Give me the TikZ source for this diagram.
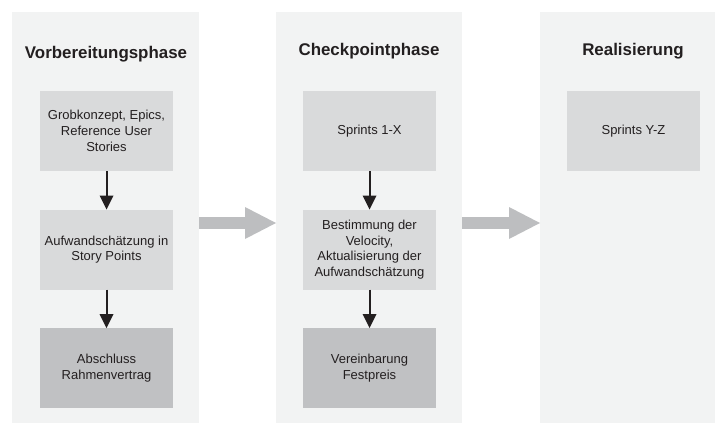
\documentclass[tikz,border=0pt]{standalone}
\usepackage{fontspec}
\setmainfont{Liberation Sans}
\usetikzlibrary{positioning, calc, arrows.meta}

\definecolor{panelbg}{HTML}{F2F3F3}
\definecolor{boxlight}{HTML}{D9DADB}
\definecolor{boxdark}{HTML}{C0C1C3}
\definecolor{arrowgray}{HTML}{BDBEC0}
\definecolor{arrowdark}{HTML}{231F20}

\tikzset{
	panel/.style={fill=panelbg, minimum height=411pt, inner sep=0pt, outer sep=0pt},
	phasetitle/.style={anchor=base, text=arrowdark, font=\fontsize{16.9pt}{19pt}\selectfont\bfseries},
	lightbox/.style={fill=boxlight, text=arrowdark, minimum width=133pt, minimum height=80pt, inner sep=0pt, outer sep=0pt, align=center, font=\fontsize{13pt}{15.7pt}\selectfont},
	darkbox/.style={lightbox, fill=boxdark},
	flow/.style={draw=arrowdark, line width=2pt, -{Triangle[length=14pt, width=14pt, line width=0pt]}},
	bigarrow/.style={draw=arrowgray, line width=12pt, -{Triangle[length=31pt, width=32pt, line width=0pt]}}
}

\begin{document}
\begin{tikzpicture}[x=1pt, y=-1pt]
	\useasboundingbox (0,0) rectangle (715,423);

	\node (p1) [panel, minimum width=187pt] at (105.5,217.5) {};
	\node (p2) [panel, minimum width=186pt] at (369,217.5) {};
	\node (p3) [panel, minimum width=175pt] at (627.5,217.5) {};

	\node (t1) [phasetitle] at (106,58) {Vorbereitungsphase};
	\node (t2) [phasetitle] at (369,55) {Checkpointphase};
	\node (t3) [phasetitle] at (633,55) {Realisierung};

	\node (n1) [lightbox] at (106.5,131) {Grobkonzept, Epics,\\Reference User\\Stories};
	\node (n2) [lightbox] at (106.5,249.5) {Aufwandschätzung in\\Story Points};
	\node (n3) [darkbox] at (106.5,368) {Abschluss\\Rahmenvertrag};

	\node (n4) [lightbox] at (369.5,131) {Sprints 1-X};
	\node (n5) [lightbox] at (369.5,249.5) {Bestimmung der\\Velocity,\\Aktualisierung der\\Aufwandschätzung};
	\node (n6) [darkbox] at (369.5,368) {Vereinbarung\\Festpreis};

	\node (n7) [lightbox] at (633.5,131) {Sprints Y-Z};

	\draw [flow] (n1) -- (n2);
	\draw [flow] (n2) -- (n3);
	\draw [flow] (n4) -- (n5);
	\draw [flow] (n5) -- (n6);

	\draw [bigarrow] ($(p1.east)+(0,5.5)$) -- ($(p2.west)+(0,5.5)$);
	\draw [bigarrow] ($(p2.east)+(0,5.5)$) -- ($(p3.west)+(0,5.5)$);
\end{tikzpicture}
\end{document}
